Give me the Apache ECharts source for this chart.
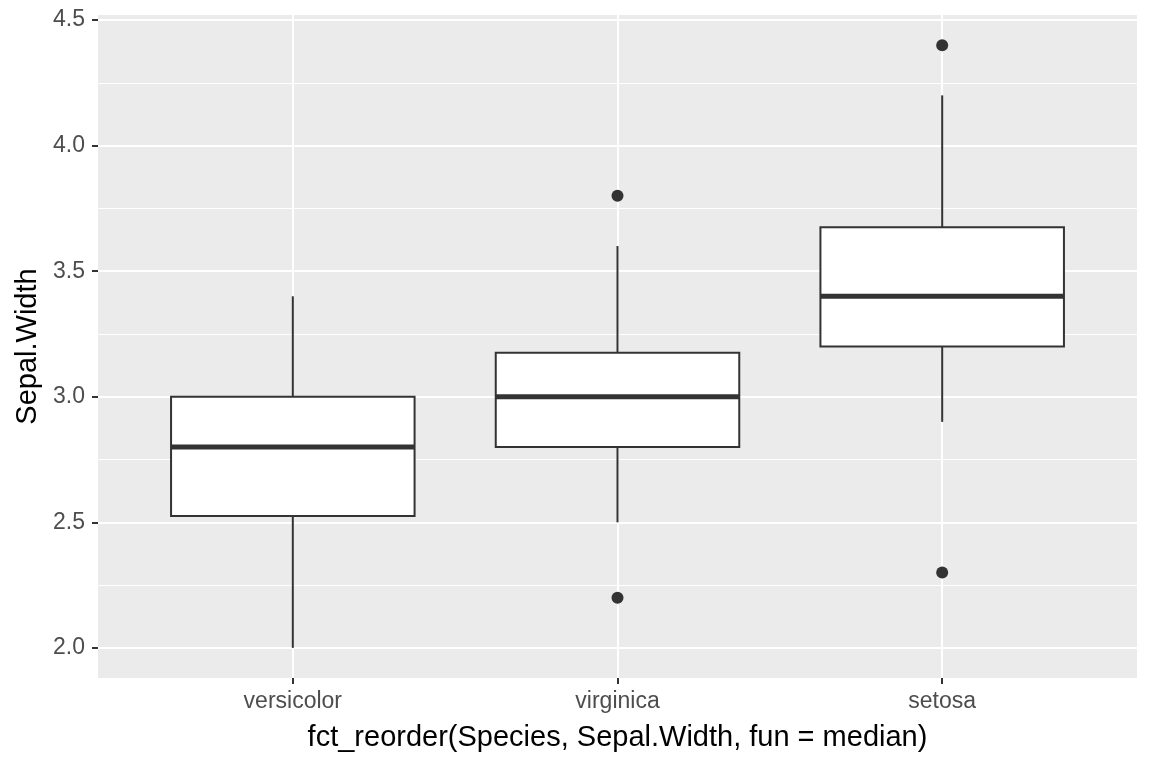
<!DOCTYPE html>
<html>
<head>
<meta charset="utf-8">
<title>Sepal.Width by species</title>
<script src="https://cdn.jsdelivr.net/npm/echarts@6/dist/echarts.min.js"></script>
<style>
    html, body { margin: 0; padding: 0; background: #fff; }
    #chart { width: 1152px; height: 768px; }
</style>
</head>
<body>
<div id="chart"></div>
<script>
// categories in fct_reorder order (by median)
var species = ['versicolor', 'virginica', 'setosa'];
var whiskerLow = [2.0, 2.5, 2.9];
var q1 = [2.525, 2.8, 3.2];
var median = [2.8, 3.0, 3.4];
var q3 = [3.0, 3.175, 3.675];
var whiskerHigh = [3.4, 3.6, 4.2];
// [category index, value]
var outliers = [[1, 3.8], [1, 2.2], [2, 4.4], [2, 2.3]];

var yMajor = [2.0, 2.5, 3.0, 3.5, 4.0, 4.5];
var yMinor = [2.25, 2.75, 3.25, 3.75, 4.25];

var boxData = species.map(function(s, i) {
    return [i, whiskerLow[i], q1[i], median[i], q3[i], whiskerHigh[i]];
});

function renderBox(params, api) {
    var x = api.value(0);
    var half = 0.375;
    var pLow = api.coord([x, api.value(1)]);
    var pQ1 = api.coord([x, api.value(2)]);
    var pMed = api.coord([x, api.value(3)]);
    var pQ3 = api.coord([x, api.value(4)]);
    var pHigh = api.coord([x, api.value(5)]);
    var left = api.coord([x - half, api.value(3)])[0];
    var right = api.coord([x + half, api.value(3)])[0];
    var line = { stroke: '#333333', lineWidth: 2 };
    return {
        type: 'group',
        children: [
            { type: 'line', shape: { x1: pHigh[0], y1: pHigh[1], x2: pQ3[0], y2: pQ3[1] }, style: line },
            { type: 'line', shape: { x1: pQ1[0], y1: pQ1[1], x2: pLow[0], y2: pLow[1] }, style: line },
            { type: 'rect', shape: { x: left, y: pQ3[1], width: right - left, height: pQ1[1] - pQ3[1] },
              style: { fill: '#ffffff', stroke: '#333333', lineWidth: 2 } },
            { type: 'line', shape: { x1: left, y1: pMed[1], x2: right, y2: pMed[1] },
              style: { stroke: '#333333', lineWidth: 5 } }
        ]
    };
}

var chart = echarts.init(document.getElementById('chart'));

var option = {
    animation: false,
    textStyle: { fontFamily: 'Liberation Sans' },
    grid: {
        left: 98, right: 15, top: 15, bottom: 90,
        show: true, backgroundColor: '#EBEBEB', borderWidth: 0,
        containLabel: false
    },
    xAxis: {
        type: 'value',
        min: -0.6,
        max: 2.6,
        name: 'fct_reorder(Species, Sepal.Width, fun = median)',
        nameLocation: 'middle',
        nameGap: 45,
        nameTextStyle: { color: '#000000', fontSize: 29, fontFamily: 'Liberation Sans' },
        axisLine: { show: false, onZero: false },
        axisTick: { show: true, customValues: [0, 1, 2], length: 6, lineStyle: { color: '#333333', width: 2 } },
        axisLabel: {
            customValues: [0, 1, 2],
            color: '#4D4D4D', fontSize: 23, margin: 12,
            formatter: function(v) { return species[Math.round(v)]; }
        },
        splitLine: { show: true, lineStyle: { color: '#ffffff', width: 2 } }
    },
    yAxis: [{
        type: 'value',
        min: 1.88,
        max: 4.52,
        name: 'Sepal.Width',
        nameLocation: 'middle',
        nameRotate: 90,
        nameGap: 56,
        nameTextStyle: { color: '#000000', fontSize: 29, fontFamily: 'Liberation Sans' },
        axisLine: { show: false, onZero: false },
        axisTick: { show: true, customValues: yMajor, length: 6, lineStyle: { color: '#333333', width: 2 } },
        axisLabel: {
            customValues: yMajor,
            color: '#4D4D4D', fontSize: 23, margin: 13,
            formatter: function(v) { return v.toFixed(1); }
        },
        splitLine: { show: true, lineStyle: { color: '#ffffff', width: 2 } }
    }, {
        type: 'value',
        min: 1.88,
        max: 4.52,
        position: 'left',
        axisLine: { show: false, onZero: false },
        axisTick: { show: false, customValues: yMinor },
        axisLabel: { show: false, customValues: yMinor },
        splitLine: { show: true, lineStyle: { color: '#ffffff', width: 1 } }
    }],
    series: [{
        type: 'custom',
        renderItem: renderBox,
        encode: { x: 0, y: [1, 2, 3, 4, 5] },
        data: boxData,
        z: 3
    }, {
        type: 'scatter',
        data: outliers,
        symbolSize: 12,
        itemStyle: { color: '#333333', opacity: 1 },
        z: 4
    }]
};

chart.setOption(option);
</script>
</body>
</html>
